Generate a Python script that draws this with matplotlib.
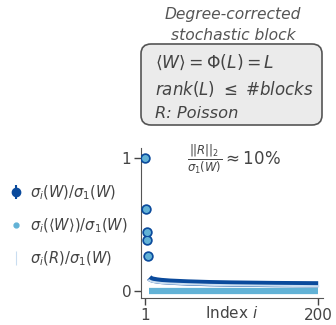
import matplotlib
matplotlib.use("Agg")
import matplotlib.pyplot as plt
from matplotlib.patches import FancyBboxPatch
import numpy as np

plt.rcParams['mathtext.fontset'] = 'dejavusans'

# leading singular values (normalised), identical for W and <W>
top_idx = [1, 2, 3, 4, 5]
top_vals = [1.0, 0.62, 0.44, 0.38, 0.26]

# bulk of the spectrum, read at a few indices
bulk_idx = [6, 7, 8, 10, 15, 20, 30, 50, 75, 100, 150, 200]
w_bulk = [0.100, 0.094, 0.090, 0.085, 0.079, 0.075, 0.070, 0.064, 0.059, 0.056, 0.052, 0.050]
r_bulk = [0.080, 0.076, 0.073, 0.069, 0.064, 0.060, 0.056, 0.051, 0.046, 0.043, 0.039, 0.036]
mean_bulk = [0.0] * len(bulk_idx)

dark = '#0a4a9c'
mid = '#62b2d6'
light = '#c9ddf0'
txt = '#444444'

fig = plt.figure(figsize=(3.36, 3.25), dpi=100)
ax = fig.add_axes([0.42, 0.083, 0.541, 0.4615])

# W
ax.plot(bulk_idx, w_bulk, color=dark, lw=4.5, solid_capstyle='butt', zorder=2)
ax.errorbar(top_idx, top_vals, yerr=0.005, fmt='o', color=dark, ms=6.5, zorder=3)
# R
ax.plot(bulk_idx, r_bulk, color=light, lw=1.5, zorder=4)
# <W>
ax.plot(bulk_idx, mean_bulk, color=mid, lw=4.5, solid_capstyle='butt', zorder=2)
ax.plot(top_idx, top_vals, 'o', color=mid, ms=4, zorder=5)

ax.set_xlim(-3.3, 205.4)
ax.set_ylim(-0.053, 1.075)
ax.set_xticks([1, 200])
ax.set_yticks([0, 1])
ax.set_xticklabels(['1', '200'])
ax.set_yticklabels(['0', '1'])
ax.tick_params(labelsize=11, colors=txt, length=5, width=1, pad=2)
ax.set_xlabel(r'Index $i$', fontsize=11, color=txt, labelpad=-13)
for s in ['top', 'right']:
    ax.spines[s].set_visible(False)
for s in ['left', 'bottom']:
    ax.spines[s].set_color('#555555')

ax.text(0.25, 0.92, r'$\frac{||R||_2}{\sigma_1(W)}\approx 10\%$', transform=ax.transAxes,
        fontsize=12, color=txt, ha='left', va='center')

# legend handles
h1 = ax.errorbar([], [], yerr=[], fmt='o', color=dark, ms=6)
h2, = ax.plot([], [], 'o', color=mid, ms=3.5)
h3 = ax.errorbar([], [], yerr=[], fmt='none', color=light, lw=0.8, capsize=1.5)
fig.legend([h1, h2, h3],
           [r'$\sigma_i(W)/\sigma_1(W)$', r'$\sigma_i(\langle W\rangle)/\sigma_1(W)$',
            r'$\sigma_i(R)/\sigma_1(W)$'],
           loc='upper left', bbox_to_anchor=(0.012, 0.453), frameon=False, fontsize=10.5,
           labelcolor=txt, handlelength=0.8, handletextpad=0.6, labelspacing=1.0,
           borderaxespad=0)

# title and description box
fig.text(0.693, 0.978, 'Degree-corrected\nstochastic block', ha='center', va='top',
         fontsize=11.2, style='italic', color='#555555', linespacing=1.45)
box = FancyBboxPatch((141 / 336, 1 - 125 / 325), 181 / 336, 81 / 325,
                     boxstyle='round,pad=0,rounding_size=0.03', transform=fig.transFigure,
                     facecolor='#ebebeb', edgecolor='#555555', lw=1.2)
fig.patches.append(box)
fig.text(155 / 336, 1 - 62 / 325, r'$\langle W\rangle = \Phi(L) = L$', fontsize=12.3,
         color=txt, va='center')
fig.text(155 / 336, 1 - 89 / 325, r'$rank(L)\ \leq$ #blocks', fontsize=12,
         style='italic', color=txt, va='center')
fig.text(155 / 336, 1 - 113 / 325, 'R: Poisson', fontsize=11.7,
         style='italic', color=txt, va='center')

fig.savefig('out.png', dpi=100)
